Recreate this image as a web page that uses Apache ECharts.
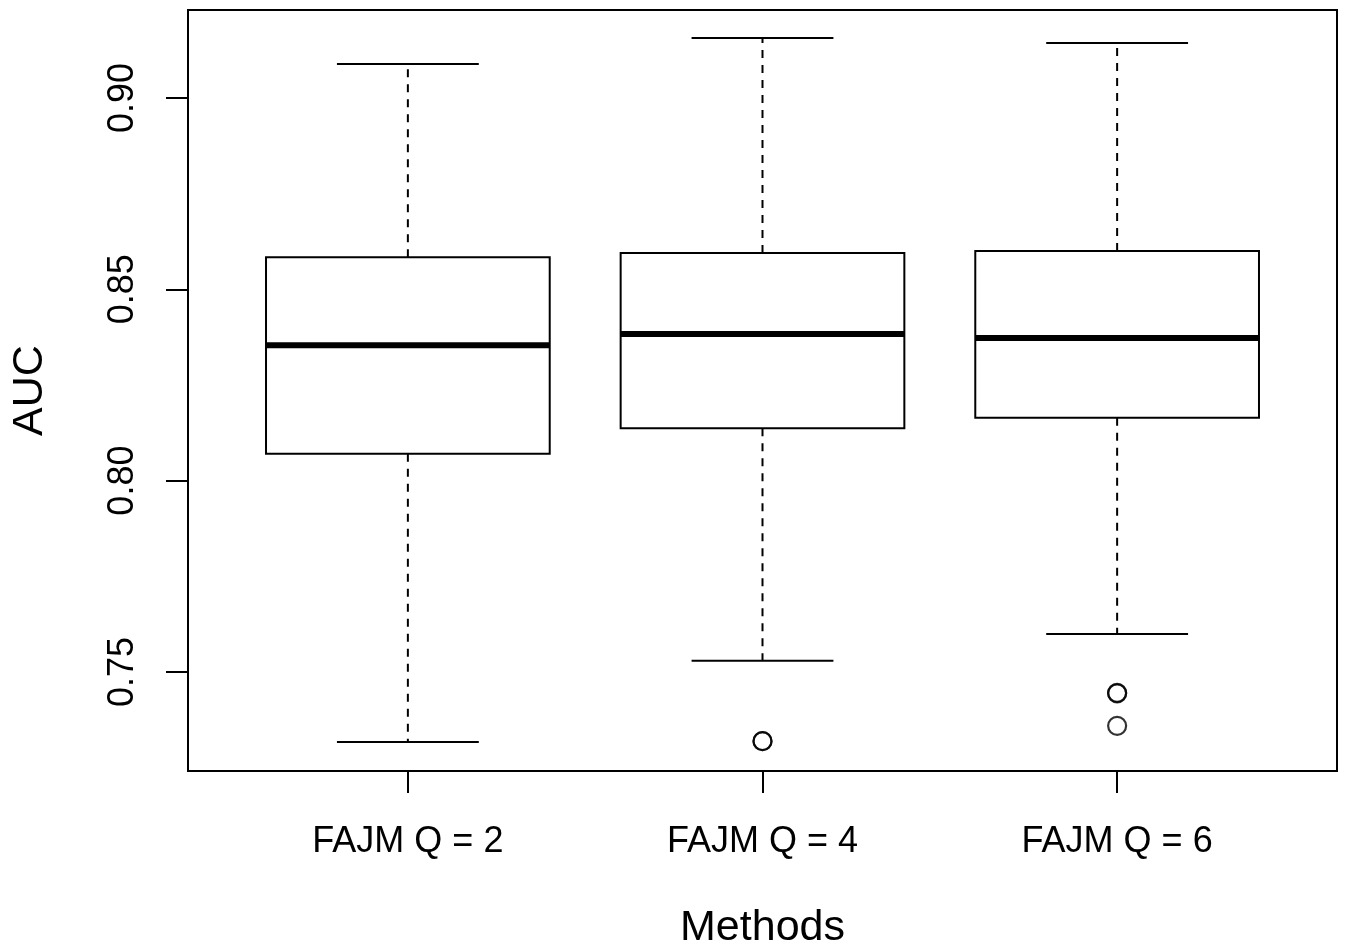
<!DOCTYPE html>
<html>
<head>
<meta charset="utf-8">
<script src="https://cdn.jsdelivr.net/npm/echarts@6/dist/echarts.min.js"></script>
<style>
  html, body { margin: 0; padding: 0; background: #fff; }
  #chart { width: 1347px; height: 948px; }
</style>
</head>
<body>
<div id="chart"></div>
<script>
// AUC distribution for each FAJM setting (box-and-whisker summary)
const categories   = ['FAJM Q = 2', 'FAJM Q = 4', 'FAJM Q = 6'];
const lowerWhisker = [0.7317, 0.7529, 0.7599];
const lowerQuartile = [0.8070, 0.8137, 0.8164];
const medianValues = [0.8354, 0.8383, 0.8373];
const upperQuartile = [0.8584, 0.8595, 0.8600];
const upperWhisker = [0.9089, 0.9157, 0.9144];
// outliers as [category position (1-based), AUC]
const outliers = [[2, 0.7319], [2, 0.7319], [3, 0.7445], [3, 0.7444], [3, 0.7359]];
const yTicks = [0.75, 0.80, 0.85, 0.90];

const FONT = '"Liberation Sans", Arial, sans-serif';

const boxData = categories.map((c, i) => [
  i + 1, lowerWhisker[i], lowerQuartile[i], medianValues[i], upperQuartile[i], upperWhisker[i]
]);

function renderBox(params, api) {
  const x = api.value(0);
  const lo = api.coord([x, api.value(1)]);
  const q1 = api.coord([x, api.value(2)]);
  const md = api.coord([x, api.value(3)]);
  const q3 = api.coord([x, api.value(4)]);
  const hi = api.coord([x, api.value(5)]);
  const boxW = api.size([0.8, 0])[0];
  const capW = boxW / 2;
  const cx = lo[0];
  const solid = { stroke: '#000', lineWidth: 2, fill: null };
  const dashed = { stroke: '#000', lineWidth: 2, lineDash: [8, 7], fill: null };
  return {
    type: 'group',
    children: [
      { type: 'line', shape: { x1: cx, y1: q3[1], x2: cx, y2: hi[1] }, style: dashed },
      { type: 'line', shape: { x1: cx, y1: q1[1], x2: cx, y2: lo[1] }, style: dashed },
      { type: 'line', shape: { x1: cx - capW / 2, y1: hi[1], x2: cx + capW / 2, y2: hi[1] }, style: solid },
      { type: 'line', shape: { x1: cx - capW / 2, y1: lo[1], x2: cx + capW / 2, y2: lo[1] }, style: solid },
      { type: 'rect', shape: { x: cx - boxW / 2, y: q3[1], width: boxW, height: q1[1] - q3[1] },
        style: { stroke: '#000', lineWidth: 2, fill: '#fff' } },
      { type: 'line', shape: { x1: cx - boxW / 2, y1: md[1], x2: cx + boxW / 2, y2: md[1] },
        style: { stroke: '#000', lineWidth: 6 } }
    ]
  };
}

const chart = echarts.init(document.getElementById('chart'), null, { renderer: 'canvas' });
chart.setOption({
  animation: false,
  backgroundColor: '#fff',
  grid: {
    left: 188, top: 10, width: 1149, height: 761,
    outerBoundsMode: 'none',
    containLabel: false,
    show: true, borderColor: '#000', borderWidth: 2, backgroundColor: 'transparent'
  },
  xAxis: {
    type: 'value', min: 0.38, max: 3.62,
    name: 'Methods', nameLocation: 'middle', nameGap: 136,
    nameTextStyle: { fontFamily: FONT, fontSize: 43, color: '#000' },
    axisLine: { show: false },
    splitLine: { show: false },
    axisTick: { show: true, customValues: [1, 2, 3], length: 22, lineStyle: { color: '#000', width: 2 } },
    axisLabel: {
      customValues: [1, 2, 3], margin: 53,
      fontFamily: FONT, fontSize: 36, color: '#000',
      formatter: v => categories[Math.round(v) - 1] || ''
    }
  },
  yAxis: {
    type: 'value', min: 0.7241, max: 0.9230,
    name: 'AUC', nameLocation: 'middle', nameGap: 136,
    nameTextStyle: { fontFamily: FONT, fontSize: 43, color: '#000' },
    axisLine: { show: false },
    splitLine: { show: false },
    axisTick: { show: true, customValues: yTicks, length: 22, lineStyle: { color: '#000', width: 2 } },
    axisLabel: {
      customValues: yTicks, margin: 47, rotate: 90,
      fontFamily: FONT, fontSize: 36, color: '#000',
      formatter: v => v.toFixed(2)
    }
  },
  series: [
    {
      type: 'custom',
      renderItem: renderBox,
      data: boxData,
      encode: { x: 0, y: [1, 2, 3, 4, 5] },
      z: 2
    },
    {
      type: 'scatter',
      data: outliers,
      symbol: 'circle',
      symbolSize: 18,
      itemStyle: { color: 'rgba(0,0,0,0)', borderColor: '#000', borderWidth: 2.2 },
      z: 3
    }
  ]
});
</script>
</body>
</html>
